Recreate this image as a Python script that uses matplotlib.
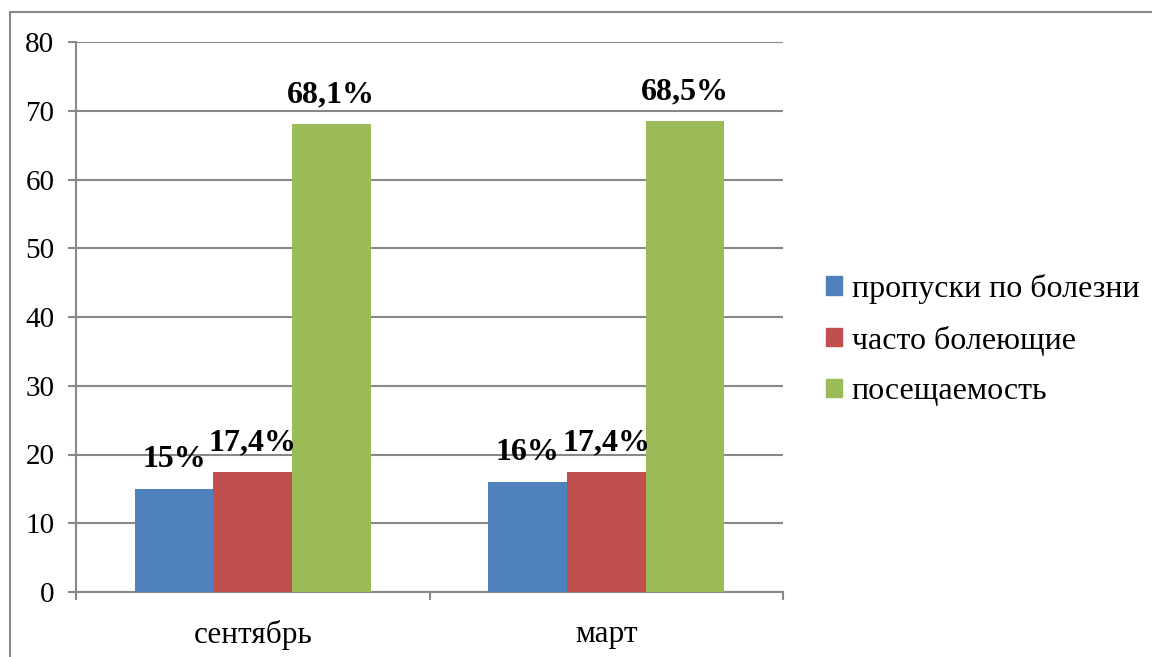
import matplotlib.pyplot as plt
import matplotlib.patches as mpatches
import numpy as np

plt.rcParams['font.family'] = ['Liberation Serif', 'DejaVu Serif']

# данные
categories = ['сентябрь', 'март']
series_names = ['пропуски по болезни', 'часто болеющие', 'посещаемость']
values = [
    [15.0, 16.0],   # пропуски по болезни
    [17.4, 17.4],   # часто болеющие
    [68.1, 68.5],   # посещаемость
]
value_labels = [
    ['15%', '16%'],
    ['17,4%', '17,4%'],
    ['68,1%', '68,5%'],
]
colors = ['#4F81BD', '#C0504D', '#9BBB59']
yticks = [0, 10, 20, 30, 40, 50, 60, 70, 80]

GRID = '#888888'
FS = 22.5

fig = plt.figure(figsize=(11.52, 6.57), dpi=100)
ax = fig.add_axes([76 / 1152, 65 / 657, 707 / 1152, 550 / 657])

# рамка диаграммы (как в Excel)
frame = mpatches.Rectangle((10 / 1152, -0.1), 1.2, 1 - 12 / 657 + 0.1,
                           transform=fig.transFigure, fill=False,
                           edgecolor=GRID, linewidth=1.5, zorder=0)
fig.patches.append(frame)

# столбцы: зазор 150% ширины столбца
n = len(series_names)
w = 1.0 / (n + 1.5)
x = np.arange(len(categories))
for i in range(n):
    pos = x - (n - 1) / 2 * w + i * w
    ax.bar(pos, values[i], width=w, color=colors[i], label=series_names[i],
           zorder=3, edgecolor='none')
    for xp, v, lab in zip(pos, values[i], value_labels[i]):
        ax.annotate(lab, xy=(xp, v), xytext=(0, 15.5), textcoords='offset points',
                    ha='center', va='baseline', fontsize=23, fontweight='bold',
                    color='black', zorder=5)

ax.set_xlim(-0.5, len(categories) - 0.5)
ax.set_ylim(0, 80)
ax.set_yticks(yticks)
ax.set_yticklabels([str(t) for t in yticks], fontsize=21)

# основные линии сетки
ax.yaxis.grid(True, color=GRID, linewidth=1.5, zorder=0)
ax.set_axisbelow(True)

# подписи категорий и деления между ними
ax.set_xticks(np.arange(-0.5, len(categories), 1.0))
ax.set_xticklabels([])
ax.set_xticks(x, minor=True)
ax.set_xticklabels(categories, minor=True, fontsize=FS)
ax.tick_params(axis='x', which='major', direction='out', length=6, width=1.5, color=GRID)
ax.tick_params(axis='x', which='minor', length=0, pad=20)
ax.tick_params(axis='y', direction='out', length=6, width=1.5, color=GRID, pad=9.5)

for side in ['top', 'right']:
    ax.spines[side].set_visible(False)
for side in ['left', 'bottom']:
    ax.spines[side].set_color(GRID)
    ax.spines[side].set_linewidth(1.5)

handles = [mpatches.Patch(color=c, label=l) for c, l in zip(colors, series_names)]
fig.legend(handles=handles, loc='center left', bbox_to_anchor=(826 / 1152, 1 - 340 / 657),
           frameon=False, fontsize=23, handlelength=0.5, handleheight=0.5,
           handletextpad=0.3, labelspacing=0.68, borderpad=0, borderaxespad=0)

fig.savefig('out.png', dpi=100)
